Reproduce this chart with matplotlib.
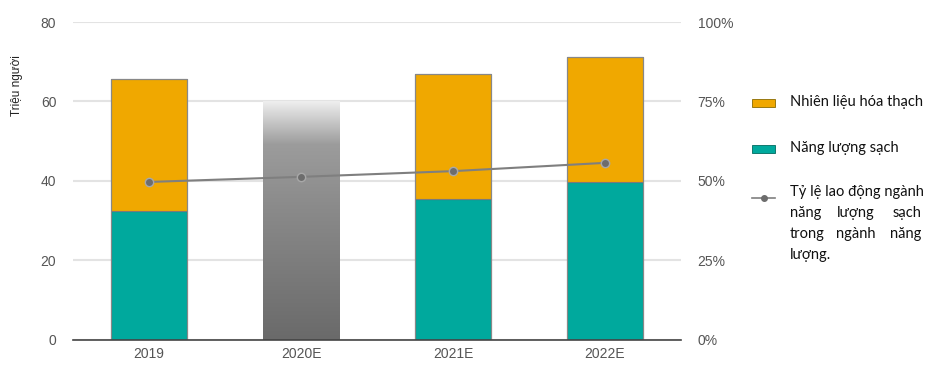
import numpy as np
import matplotlib.pyplot as plt
from matplotlib.colors import LinearSegmentedColormap
from matplotlib.patches import Rectangle
from matplotlib.lines import Line2D

plt.rcParams['font.family'] = ['Liberation Sans', 'DejaVu Sans']

years = ['2019', '2020E', '2021E', '2022E']
clean = [32.5, 0, 35.5, 39.7]
fossil = [33.2, 0, 31.4, 31.5]
total_2020 = 60
share_clean = [49.7, 51.3, 53.1, 55.7]

orange = '#F0A800'
teal = '#00A99D'
tick_col = '#555555'

fig = plt.figure(figsize=(9.36, 3.71), dpi=100)
ax = fig.add_axes([0.078, 0.0836, 0.6496, 0.8571])
x = np.arange(len(years))
w = 0.5

ax.bar(x, clean, w, color=teal, edgecolor='#5a5a5a', linewidth=0.8, zorder=2)
ax.bar(x, fossil, w, bottom=clean, color=orange, edgecolor='#7a7a7a', linewidth=0.8, zorder=2)
for i in (0, 2, 3):
    ax.bar(x[i], fossil[i] + clean[i], w, fill=False, edgecolor='#888888', linewidth=0.8, zorder=3)

# gradient bar for 2020E
cmap = LinearSegmentedColormap.from_list('g', [(0, '#6a6a6a'), (0.55, '#8a8a8a'), (0.82, '#9c9c9c'), (1, '#eeeeee')])
grad = np.linspace(0, 1, 256).reshape(-1, 1)
im = ax.imshow(grad, cmap=cmap, aspect='auto', origin='lower',
               extent=[x[1] - w / 2, x[1] + w / 2, 0, total_2020], zorder=2)
clip = Rectangle((x[1] - w / 2, 0), w, total_2020, transform=ax.transData, fill=False, lw=0)
ax.add_patch(clip)
im.set_clip_path(clip)

ax.set_xlim(-0.5, 3.5)
ax.set_ylim(0, 80)
ax.set_yticks([0, 20, 40, 60, 80])
ax.set_xticks(x)
ax.set_xticklabels(years)
ax.grid(axis='y', color='#e3e3e3', linewidth=1.5, zorder=0)
ax.set_axisbelow(True)
for s in ['left', 'right', 'top']:
    ax.spines[s].set_visible(False)
ax.spines['bottom'].set_color('#444444')
ax.spines['bottom'].set_linewidth(1.2)
ax.spines['bottom'].set_zorder(4)
ax.tick_params(length=0, labelsize=10, labelcolor=tick_col, pad=12)
ax.tick_params(axis='x', pad=5)
ax.set_ylabel('Triệu người', fontsize=8.5, color='#222222')
ax.yaxis.set_label_coords(-0.082, 0.8)

ax2 = ax.twinx()
ax2.set_ylim(0, 100)
ax2.set_yticks([0, 25, 50, 75, 100])
ax2.set_yticklabels(['0%', '25%', '50%', '75%', '100%'])
for s in ax2.spines.values():
    s.set_visible(False)
ax2.tick_params(length=0, labelsize=10, labelcolor=tick_col, pad=12)
ax2.plot(x, share_clean, color='#7f7f7f', linewidth=1.5, marker='o', markersize=6,
         markerfacecolor='#6d6d6d', markeredgecolor='#a8a8a8', markeredgewidth=1, zorder=5)

# legend
fam = ['Lato', 'DejaVu Sans']
fs = 10.5
fig.patches.append(Rectangle((752 / 936, 1 - 107 / 371), 23 / 936, 8 / 371, transform=fig.transFigure,
                             facecolor=orange, edgecolor='#8a6a00', linewidth=0.6))
fig.patches.append(Rectangle((752 / 936, 1 - 153 / 371), 23 / 936, 8 / 371, transform=fig.transFigure,
                             facecolor=teal, edgecolor='#006a60', linewidth=0.6))
fig.lines.append(Line2D([752 / 936, 763.5 / 936, 775 / 936], [1 - 198 / 371] * 3, transform=fig.transFigure,
                        color='#7f7f7f', linewidth=1.2, marker='o', markersize=4, markevery=[1],
                        markerfacecolor='#6d6d6d', markeredgecolor='#6d6d6d'))

tx = 790 / 936
rx = 921 / 936
fig.text(tx, 1 - 102 / 371, 'Nhiên liệu hóa thạch', fontsize=fs, family=fam, va='center', color='#111111')
fig.text(tx, 1 - 148 / 371, 'Năng lượng sạch', fontsize=fs, family=fam, va='center', color='#111111')
rows = [['Tỷ lệ lao động ngành'], ['năng', 'lượng', 'sạch'], ['trong', 'ngành', 'năng'], ['lượng.']]
for j, words in enumerate(rows):
    yy = 1 - (192 + j * 21) / 371
    if len(words) == 1:
        fig.text(tx, yy, words[0], fontsize=fs, family=fam, va='center', color='#111111')
    else:
        fig.text(tx, yy, words[0], fontsize=fs, family=fam, va='center', ha='left', color='#111111')
        fig.text((tx + rx) / 2, yy, words[1], fontsize=fs, family=fam, va='center', ha='center', color='#111111')
        fig.text(rx, yy, words[2], fontsize=fs, family=fam, va='center', ha='right', color='#111111')

fig.savefig('out.png', dpi=100)
